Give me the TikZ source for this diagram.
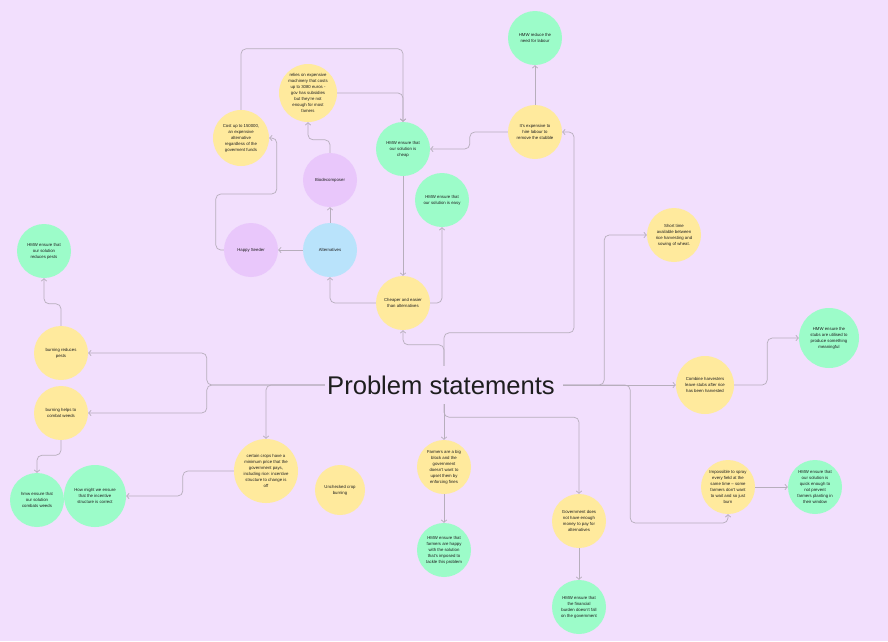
\documentclass[tikz,border=0pt]{standalone}
\usepackage{fontspec}
\setmainfont{Liberation Sans}
\usetikzlibrary{arrows.meta}

\definecolor{bgc}{RGB}{242,223,253}
\definecolor{yelc}{RGB}{255,234,157}
\definecolor{grnc}{RGB}{156,252,201}
\definecolor{purc}{RGB}{233,199,251}
\definecolor{bluc}{RGB}{185,227,251}
\definecolor{linec}{RGB}{183,174,188}
\definecolor{ink}{RGB}{30,30,30}

\begin{document}
\begin{tikzpicture}[x=1pt, y=-1pt,
    bub/.style={circle, inner sep=-10pt, minimum size=54pt, align=center, text=ink, font=\fontsize{4.3}{6}\selectfont},
    yel/.style={bub, fill=yelc},
    grn/.style={bub, fill=grnc},
    pur/.style={bub, fill=purc},
    blu/.style={bub, fill=bluc},
    link/.style={draw=linec, line width=0.7pt, rounded corners=5pt, -{Straight Barb[length=2.5pt,width=5.5pt]}}]

    \useasboundingbox (0,0) rectangle (888,641);
    \fill[bgc] (0,0) rectangle (888,641);

    \node[text=ink, font=\fontsize{25.6}{30}\selectfont, minimum width=238pt, minimum height=38pt, inner sep=0pt] (ps) at (444,385) {\hspace*{-6pt}Problem statements};

    \node[grn] (reduce) at (535,38) {HMW reduce the\\need for labour};
    \node[yel] (expensive) at (535,132) {It's expensive to\\hire labour to\\remove the stubble};
    \node[grn] (cheap) at (403,149) {HMW ensure that\\our solution is\\cheap};
    \node[yel, minimum size=58pt] (relies) at (308,93) {relies on expensive\\machinery that costs\\up to 3080 euros -\\gov has subsidies\\but they're not\\enough for most\\famers};
    \node[yel, minimum size=56pt] (cost) at (241,138) {Cost up to 150000,\\an expensive\\alternative\\regardless of the\\goverment funds};
    \node[pur] (bio) at (330,180) {Biodecomposer};
    \node[pur] (seeder) at (251,250) {Happy Seeder};
    \node[blu] (alt) at (330,250) {Alternatives};
    \node[grn] (easy) at (442,200) {HMW ensure that\\our solution is easy};
    \node[yel] (cheaper) at (403,303) {Cheaper and easier\\than alternatives};

    \node[grn] (hmwpests) at (44,251) {HMW ensure that\\our solution\\reduces pests};
    \node[yel] (pests) at (61,353) {burning reduces\\pests};
    \node[yel] (weeds) at (61,413) {burning helps to\\combat weeds};
    \node[grn] (hmwweeds) at (37,500) {hmw ensure that\\our solution\\combats weeds};
    \node[grn, minimum size=62pt] (incentive) at (95,496) {How might we ensure\\that the incentive\\structure is correct};
    \node[yel, minimum size=64pt] (crops) at (266,471) {certain crops have a\\minimum price that the\\government pays,\\including rice: incentive\\structure to change is\\off};
    \node[yel, minimum size=50pt] (unchecked) at (340,490) {Unchecked crop\\burning};

    \node[yel] (farmers) at (444,467) {Farmers are a big\\block and the\\government\\doesn't want to\\upset them by\\enforcing fines};
    \node[grn] (happy) at (444,550) {HMW ensure that\\farmers are happy\\with the solution\\that's imposed to\\tackle this problem};
    \node[yel] (govt) at (579,521) {Government does\\not have enough\\money to pay for\\alternatives};
    \node[grn] (burden) at (579,607) {HMW ensure that\\the financial\\burden doesn't fall\\on the government};

    \node[yel] (short) at (674,235) {Short time\\available between\\rice harvesting and\\sowing of wheat.};
    \node[grn, minimum size=60pt] (stubs) at (829,338) {HMW ensure the\\stubs are utilised to\\produce something\\meaningful};
    \node[yel, minimum size=58pt] (combine) at (705,385) {Combine harvesters\\leave stubs after rice\\has been harvested};
    \node[yel] (impossible) at (728,487) {Impossible to spray\\every field at the\\same time -- some\\farmers don't want\\to wait and so just\\burn};
    \node[grn] (quick) at (815,487) {HMW ensure that\\our solution is\\quick enough to\\not prevent\\farmers planting in\\their window};

    \draw[link] (ps.west) -- ++(-118,0) |- (pests.east);
    \draw[link] (ps.west) -- ++(-118,0) |- (weeds.east);
    \draw[link] (ps.west) -| (crops.north);
    \draw[link] (ps.north) -- ++(0,-21) -| (cheaper.south);
    \draw[link] (ps.north) -- ++(0,-33) -- ++(130,0) |- (expensive.east);
    \draw[link] (ps.east) -- ++(41,0) |- (short.west);
    \draw[link] (ps.east) -- (combine.west);
    \draw[link] (ps.east) -- ++(67,0) -- ++(0,138) -| (impossible.south);
    \draw[link] (ps.south) -- (farmers.north);
    \draw[link] (ps.south) -- ++(0,13) -| (govt.north);

    \draw[link] (combine.east) -- ++(33,0) |- (stubs.west);
    \draw[link] (impossible.east) -- (quick.west);
    \draw[link] (farmers.south) -- (happy.north);
    \draw[link] (govt.south) -- (burden.north);

    \draw[link] (pests.north) -- ++(0,-22) -| (hmwpests.south);
    \draw[link] (weeds.south) -- ++(0,15) -| (hmwweeds.north);
    \draw[link] (crops.west) -- ++(-51,0) |- (incentive.east);

    \draw[link] (cheap.south) -- (cheaper.north);
    \draw[link] (cheaper.west) -| (alt.south);
    \draw[link] (cheaper.east) -| (easy.south);
    \draw[link] (alt.west) -- (seeder.east);
    \draw[link] (alt.north) -- (bio.south);
    \draw[link] (bio.north) -- ++(0,-13) -| (relies.south);
    \draw[link] (seeder.west) -- ++(-8,0) -- ++(0,-56) -- ++(61,0) |- (cost.east);
    \draw[link] (cost.north) -- ++(0,-61) -| (cheap.north);
    \draw[link] (relies.east) -| (cheap.north);
    \draw[link] (expensive.north) -- (reduce.south);
    \draw[link] (expensive.west) -- ++(-38,0) |- (cheap.east);
\end{tikzpicture}
\end{document}
